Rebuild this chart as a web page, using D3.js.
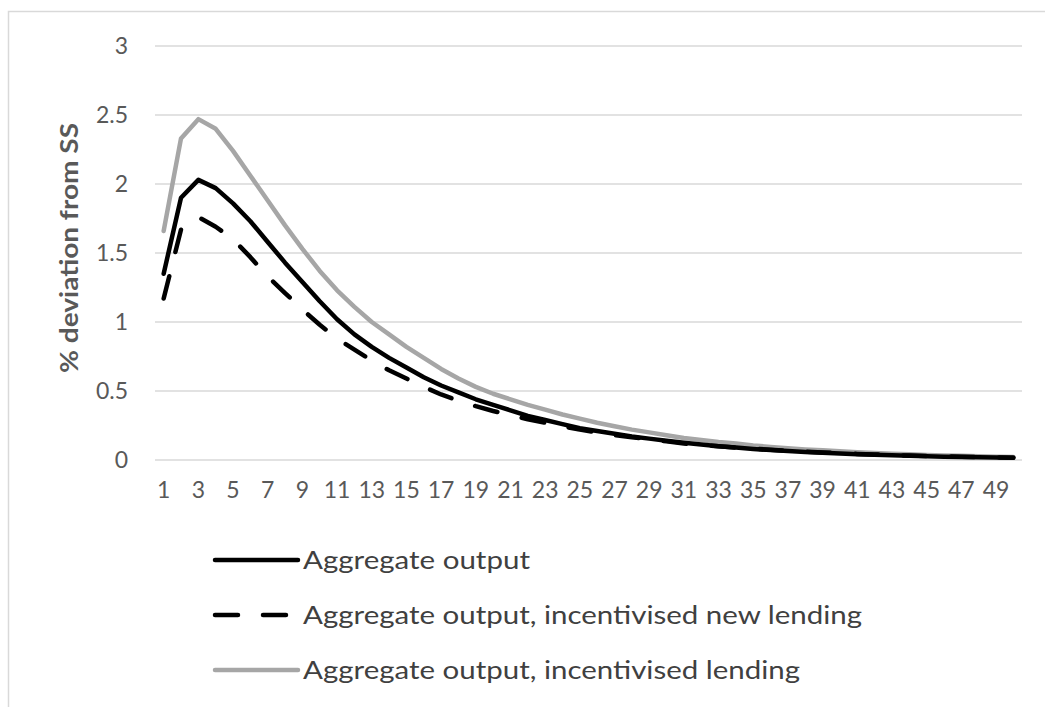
<!DOCTYPE html>
<html>
<head>
<meta charset="utf-8">
<script src="https://cdn.jsdelivr.net/npm/d3@7"></script>
<style>
  body { margin: 0; background: #fff; }
  svg { display: block; }
  text { font-family: Lato, "Open Sans", sans-serif; }
</style>
</head>
<body>
<svg id="chart"></svg>
<script>
// periods 1..50
var periods = d3.range(1, 51);

var aggOutput = [1.35, 1.90, 2.03, 1.97, 1.86, 1.73, 1.58, 1.43, 1.29, 1.15,
    1.02, 0.91, 0.82, 0.74, 0.67, 0.60, 0.54, 0.49, 0.44, 0.40,
    0.36, 0.32, 0.29, 0.26, 0.23, 0.21, 0.19, 0.17, 0.155, 0.14,
    0.125, 0.112, 0.10, 0.09, 0.08, 0.072, 0.065, 0.058, 0.052, 0.047,
    0.042, 0.038, 0.034, 0.030, 0.027, 0.024, 0.022, 0.020, 0.018, 0.016];

var aggNewLending = [1.17, 1.67, 1.76, 1.69, 1.60, 1.47, 1.33, 1.21, 1.09, 0.98,
    0.88, 0.80, 0.72, 0.65, 0.59, 0.53, 0.475, 0.43, 0.39, 0.355,
    0.325, 0.295, 0.27, 0.245, 0.22, 0.20, 0.18, 0.165, 0.15, 0.135,
    0.12, 0.11, 0.10, 0.09, 0.082, 0.074, 0.066, 0.060, 0.054, 0.049,
    0.044, 0.040, 0.036, 0.032, 0.029, 0.026, 0.023, 0.021, 0.019, 0.017];

var aggLending = [1.66, 2.33, 2.47, 2.40, 2.24, 2.06, 1.88, 1.70, 1.53, 1.37,
    1.23, 1.11, 1.00, 0.91, 0.82, 0.74, 0.66, 0.59, 0.53, 0.48,
    0.44, 0.40, 0.365, 0.33, 0.30, 0.27, 0.245, 0.22, 0.20, 0.18,
    0.16, 0.145, 0.13, 0.12, 0.105, 0.095, 0.085, 0.077, 0.070, 0.063,
    0.057, 0.051, 0.046, 0.041, 0.037, 0.033, 0.030, 0.027, 0.024, 0.022];

var yTicks = [0, 0.5, 1, 1.5, 2, 2.5, 3];
var seriesNames = ["Aggregate output",
    "Aggregate output, incentivised new lending",
    "Aggregate output, incentivised lending"];

var W = 1045, H = 707;
var svg = d3.select("#chart").attr("width", W).attr("height", H);

// frame (only top and left edges visible in the original crop)
svg.append("rect")
    .attr("x", 8.5).attr("y", 11.5)
    .attr("width", W + 20).attr("height", H + 20)
    .attr("fill", "none").attr("stroke", "#d9d9d9").attr("stroke-width", 1.5);

var x = d3.scaleBand().domain(periods).range([155, 1022]).padding(0);
var y = d3.scaleLinear().domain([0, 3]).range([460, 46]);

// gridlines
svg.append("g").selectAll("line")
    .data(yTicks).enter().append("line")
    .attr("x1", 155).attr("x2", 1022)
    .attr("y1", function(d) { return y(d); })
    .attr("y2", function(d) { return y(d); })
    .attr("stroke", "#d9d9d9").attr("stroke-width", 1.5);

// y axis labels
var yAxis = svg.append("g")
    .attr("transform", "translate(140,0)")
    .call(d3.axisLeft(y).tickValues(yTicks).tickSize(0).tickPadding(12)
        .tickFormat(function(d) { return d3.format("")(d); }));
yAxis.select(".domain").remove();
yAxis.selectAll("text")
    .attr("fill", "#595959").style("font-size", "23px")
    .style("font-family", "Lato, sans-serif");

// x axis labels (odd periods)
var xAxis = svg.append("g")
    .attr("transform", "translate(0,460)")
    .call(d3.axisBottom(x)
        .tickValues(periods.filter(function(p) { return p % 2 === 1; }))
        .tickSize(0).tickPadding(22));
xAxis.select(".domain").remove();
xAxis.selectAll("text")
    .attr("fill", "#595959").style("font-size", "23px")
    .style("font-family", "Lato, sans-serif");

// y title
svg.append("text")
    .attr("transform", "translate(78,248) rotate(-90)")
    .attr("text-anchor", "middle")
    .attr("fill", "#595959")
    .attr("font-weight", "bold")
    .attr("font-size", "24px")
    .attr("textLength", 250)
    .attr("lengthAdjust", "spacingAndGlyphs")
    .text("% deviation from SS");

var line = d3.line()
    .x(function(d, i) { return x(periods[i]) + x.bandwidth() / 2; })
    .y(function(d) { return y(d); });

var styles = [
    { data: aggOutput, color: "#000000", dash: null },
    { data: aggNewLending, color: "#000000", dash: "23,25" },
    { data: aggLending, color: "#a6a6a6", dash: null }
];

// draw gray first, then the dashed and solid black ones
[2, 1, 0].forEach(function(k) {
    var s = styles[k];
    svg.append("path")
        .datum(s.data)
        .attr("d", line)
        .attr("fill", "none")
        .attr("stroke", s.color)
        .attr("stroke-width", 4.5)
        .attr("stroke-linejoin", "round")
        .attr("stroke-linecap", "round")
        .attr("stroke-dasharray", s.dash);
});

// legend
var legendY = [560, 615, 670];
var legendLen = [227, 559, 497];
var lg = svg.append("g");
styles.forEach(function(s, i) {
    lg.append("line")
        .attr("x1", 215).attr("x2", 298)
        .attr("y1", legendY[i]).attr("y2", legendY[i])
        .attr("stroke", s.color).attr("stroke-width", 4.5)
        .attr("stroke-linecap", "round")
        .attr("stroke-dasharray", s.dash);
    lg.append("text")
        .attr("x", 303).attr("y", legendY[i])
        .attr("dy", "0.35em")
        .attr("fill", "#404040")
        .attr("font-size", "25px")
        .attr("textLength", legendLen[i])
        .attr("lengthAdjust", "spacingAndGlyphs")
        .text(seriesNames[i]);
});
</script>
</body>
</html>
